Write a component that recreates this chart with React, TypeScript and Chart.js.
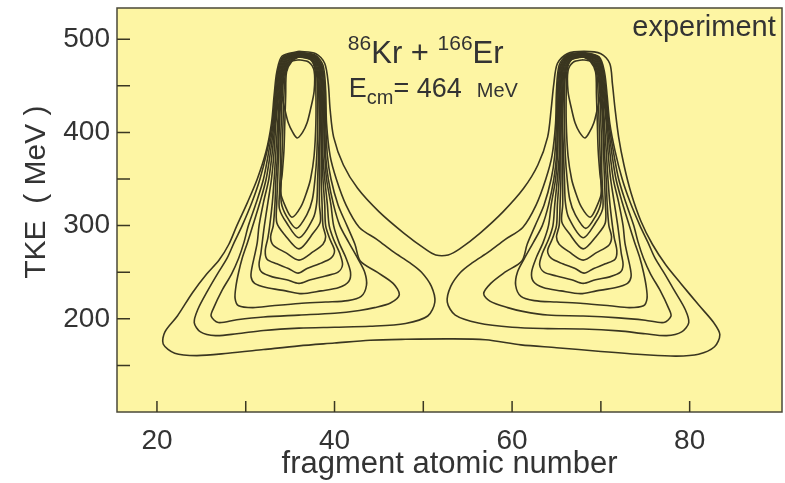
import React, { useEffect, useRef } from 'react';
import { Chart, registerables } from 'chart.js';

Chart.register(...registerables);

// ---- axis ticks ----
const xTickValues = [20, 30, 40, 50, 60, 70, 80];
const xTickLabels = ['20', '', '40', '', '60', '', '80'];
const yTickValues = [150, 200, 250, 300, 350, 400, 450, 500];
const yTickLabels = ['', '200', '', '300', '', '400', '', '500'];

// ---- contour lines: [Z, TKE (MeV)] ----
const contourOuter: [number, number][] = [
  [36.0, 487], [37.9, 484.5], [38.9, 474], [39.3, 452], [39.5, 425], [39.9, 395], [41.0, 365], [42.6, 340], [45.0, 315], [47.8, 292], [50.2, 275], [51.4, 268.5], [52.8, 268.5], [54.1, 275], [56.4, 292], [59.0, 315], [61.3, 340], [62.9, 365], [64.0, 395], [64.4, 425], [64.7, 452], [65.1, 474], [66.2, 484.5], [68.1, 487], [70.0, 484.5], [71.0, 474], [71.3, 452], [71.6, 425], [72.0, 395], [72.6, 365], [73.4, 335], [74.5, 305], [75.8, 280], [77.3, 258], [79.0, 238], [81.0, 215], [82.7, 196], [83.4, 183], [82.8, 170], [81.0, 162], [78.5, 160], [75, 161.5], [70, 165], [65, 169], [61, 172], [57, 177.5], [53, 178.5], [48, 178], [44, 177], [40, 174], [36, 171], [32, 167], [28, 163], [24.5, 160.5], [22, 163], [20.7, 173], [20.9, 186], [22.3, 203], [24.0, 228], [25.6, 248], [27.0, 263], [28.1, 280], [29.0, 300], [30.2, 325], [31.3, 350], [32.3, 380], [32.9, 410], [33.2, 440], [33.5, 465], [34.1, 482], [36.0, 487],
];

const left1: [number, number][] = [
  [36.0, 486], [37.8, 483], [38.7, 472], [39.0, 445], [39.1, 410], [39.5, 375], [40.2, 350], [41.3, 322], [42.8, 298], [44.8, 285], [46.6, 272], [48.5, 260], [49.8, 250], [50.9, 235], [51.3, 218], [50.5, 203], [48.0, 195], [44, 192], [40, 191], [36, 190], [32, 187.5], [29, 184], [26.6, 182], [24.9, 186], [24.2, 196], [24.6, 210], [25.7, 230], [26.8, 248], [27.9, 265], [28.7, 282], [29.6, 300], [30.7, 325], [31.6, 350], [32.4, 380], [33.0, 410], [33.3, 440], [33.6, 465], [34.2, 481], [36.0, 486],
];
const left2: [number, number][] = [
  [36.0, 485.5], [37.7, 482.5], [38.6, 471], [38.9, 445], [39.0, 410], [39.2, 375], [39.6, 350], [40.4, 322], [41.4, 300], [42.3, 280], [42.9, 262], [44.8, 250], [46.6, 238], [47.3, 226], [46.3, 217], [44.5, 212], [42.8, 209], [40, 206], [36, 204], [32, 202], [29, 199], [26.9, 196], [26.1, 203], [26.4, 212], [27.3, 230], [28.4, 248], [29.2, 265], [29.8, 282], [30.3, 300], [31.2, 325], [32.0, 350], [32.6, 380], [33.1, 410], [33.4, 440], [33.7, 465], [34.3, 481], [36.0, 485.5],
];
const left3: [number, number][] = [
  [36.0, 485], [37.7, 482], [38.5, 471], [38.8, 445], [38.9, 410], [39.0, 375], [39.3, 350], [39.9, 322], [40.6, 300], [41.6, 282], [42.6, 265], [43.4, 250], [43.6, 236], [43.0, 224], [41.5, 219.5], [39, 218], [36, 216.5], [33, 214], [30.8, 212], [29.2, 214], [28.8, 222], [28.9, 235], [29.2, 250], [29.6, 265], [30.2, 282], [30.8, 300], [31.6, 325], [32.3, 350], [32.8, 380], [33.2, 410], [33.5, 440], [33.8, 465], [34.4, 480.5], [36.0, 485],
];
const left4: [number, number][] = [
  [36.0, 484.5], [37.6, 481.5], [38.4, 470.5], [38.7, 445], [38.8, 410], [38.9, 375], [39.1, 350], [39.6, 322], [39.9, 300], [40.5, 282], [41.3, 265], [41.8, 250], [41.6, 240], [40.5, 233.5], [38.5, 230], [36.3, 227], [34.5, 230], [32.3, 233.5], [31.0, 238], [30.6, 245], [30.7, 255], [31.0, 268], [31.3, 282], [31.5, 300], [32.0, 325], [32.6, 350], [33.0, 380], [33.3, 410], [33.6, 440], [33.9, 465], [34.5, 480], [36.0, 484.5],
];
const left5: [number, number][] = [
  [36.0, 484], [37.6, 481], [38.3, 470], [38.6, 445], [38.7, 410], [38.7, 375], [38.9, 350], [39.2, 322], [39.4, 300], [39.9, 285], [40.6, 270], [40.9, 258], [40.4, 250], [39.0, 246], [37.3, 242], [36.0, 238], [34.6, 242], [33.0, 245], [31.8, 250], [31.5, 258], [31.7, 270], [31.9, 285], [32.1, 300], [32.5, 325], [32.9, 350], [33.2, 380], [33.4, 410], [33.7, 440], [34.0, 465], [34.6, 479.5], [36.0, 484],
];
const left6: [number, number][] = [
  [36.0, 483.5], [37.5, 480.5], [38.3, 469.5], [38.5, 445], [38.6, 410], [38.6, 375], [38.7, 350], [38.9, 322], [39.0, 300], [39.5, 285], [40.0, 273], [39.6, 265], [38.3, 259], [36.9, 254], [35.9, 249], [34.8, 254], [33.5, 259], [32.4, 264], [32.2, 273], [32.5, 287], [32.7, 300], [33.0, 325], [33.2, 350], [33.4, 380], [33.6, 410], [33.8, 440], [34.1, 465], [34.7, 479], [36.0, 483.5],
];
const left7: [number, number][] = [
  [36.0, 483], [37.5, 480], [38.2, 469], [38.4, 445], [38.5, 410], [38.5, 375], [38.5, 350], [38.6, 322], [38.7, 300], [39.0, 288], [38.7, 280], [37.6, 272], [36.0, 263], [34.5, 271], [33.1, 279], [32.8, 288], [33.1, 300], [33.3, 325], [33.4, 350], [33.6, 380], [33.7, 410], [33.9, 440], [34.2, 465], [34.8, 478.5], [36.0, 483],
];
const left8: [number, number][] = [
  [36.0, 482.5], [37.4, 479.5], [38.1, 468.5], [38.3, 445], [38.4, 410], [38.3, 375], [38.3, 350], [38.3, 322], [38.4, 304], [37.6, 292], [36.0, 275], [34.4, 290], [33.5, 303], [33.5, 325], [33.6, 350], [33.7, 380], [33.8, 410], [34.0, 440], [34.3, 465], [34.9, 478], [36.0, 482.5],
];
const left9: [number, number][] = [
  [36.0, 482], [37.4, 479], [38.0, 468], [38.2, 445], [38.3, 410], [38.2, 375], [38.1, 350], [38.0, 325], [37.6, 308], [36.0, 287], [34.6, 303], [33.8, 318], [33.8, 335], [33.9, 360], [33.9, 385], [34.0, 410], [34.1, 440], [34.4, 465], [35.0, 477.5], [36.0, 482],
];
const left10: [number, number][] = [
  [36.0, 481.5], [37.3, 478.5], [37.9, 467.5], [38.1, 445], [38.1, 410], [38.0, 375], [37.8, 350], [37.5, 328], [36.9, 312], [35.7, 297], [34.6, 310], [34.0, 325], [34.0, 350], [34.1, 380], [34.2, 410], [34.3, 440], [34.5, 465], [35.1, 477], [36.0, 481.5],
];
const left11: [number, number][] = [
  [36.0, 481], [37.3, 478], [37.8, 467], [37.9, 445], [37.9, 410], [37.7, 375], [37.3, 350], [36.9, 337], [36.2, 320], [35.2, 309], [34.4, 322], [33.9, 337], [34.1, 355], [34.3, 380], [34.4, 410], [34.5, 440], [34.6, 465], [35.2, 476.5], [36.0, 481],
];
const left12: [number, number][] = [
  [36.0, 478], [37.1, 475.5], [37.7, 466], [37.7, 444], [37.3, 425], [36.9, 410], [36.4, 400], [35.8, 394], [35.3, 400], [34.8, 410], [34.4, 425], [34.0, 444], [34.0, 466], [34.9, 475.5], [36.0, 478],
];

const right1: [number, number][] = [
  [68.0, 486], [66.2, 483], [65.3, 472], [65.0, 445], [64.9, 410], [64.5, 375], [63.8, 350], [62.7, 322], [61.2, 298], [59.2, 285], [57.4, 272], [55.5, 260], [54.2, 250], [53.1, 235], [52.7, 218], [53.6, 204], [56.2, 195.5], [60, 191], [64, 189.5], [68, 189], [72, 187], [75, 184], [77.4, 182], [79.1, 186], [79.9, 196], [79.5, 210], [78.3, 230], [77.2, 248], [76.1, 265], [75.3, 282], [74.4, 300], [73.3, 325], [72.4, 350], [71.6, 380], [71.0, 410], [70.7, 440], [70.4, 465], [69.8, 481], [68.0, 486],
];
const right2: [number, number][] = [
  [68.0, 485.5], [66.3, 482.5], [65.4, 471], [65.1, 445], [65.0, 410], [64.8, 375], [64.4, 350], [63.6, 322], [62.6, 300], [61.7, 280], [61.1, 262], [59.2, 250], [57.6, 238], [56.8, 227], [57.5, 219], [59.5, 212], [61.2, 208], [64, 204], [68, 203], [72, 201], [75, 198.5], [77.1, 196], [77.9, 203], [77.6, 212], [76.7, 230], [75.6, 248], [74.8, 265], [74.2, 282], [73.7, 300], [72.8, 325], [72.0, 350], [71.4, 380], [70.9, 410], [70.6, 440], [70.3, 465], [69.7, 481], [68.0, 485.5],
];
const right3: [number, number][] = [
  [68.0, 485], [66.3, 482], [65.5, 471], [65.2, 445], [65.1, 410], [65.0, 375], [64.7, 350], [64.1, 322], [63.4, 300], [62.4, 282], [61.4, 265], [60.6, 250], [60.4, 236], [61.0, 224], [62.5, 219.5], [65, 218], [68, 216.5], [71, 214], [73.2, 212], [74.8, 214], [75.2, 222], [75.1, 235], [74.8, 250], [74.4, 265], [73.8, 282], [73.2, 300], [72.4, 325], [71.7, 350], [71.2, 380], [70.8, 410], [70.5, 440], [70.2, 465], [69.6, 480.5], [68.0, 485],
];
const right4: [number, number][] = [
  [68.0, 484.5], [66.4, 481.5], [65.6, 470.5], [65.3, 445], [65.2, 410], [65.1, 375], [64.9, 350], [64.4, 322], [64.1, 300], [63.5, 282], [62.7, 265], [62.2, 250], [62.4, 240], [63.5, 233.5], [65.5, 230], [67.7, 227], [69.5, 230], [71.7, 233.5], [73.0, 238], [73.4, 245], [73.3, 255], [73.0, 268], [72.7, 282], [72.5, 300], [72.0, 325], [71.4, 350], [71.0, 380], [70.7, 410], [70.4, 440], [70.1, 465], [69.5, 480], [68.0, 484.5],
];
const right5: [number, number][] = [
  [68.0, 484], [66.4, 481], [65.7, 470], [65.4, 445], [65.3, 410], [65.3, 375], [65.1, 350], [64.8, 322], [64.6, 300], [64.1, 285], [63.4, 270], [63.1, 258], [63.6, 250], [65.0, 246], [66.7, 242], [68.0, 238], [69.4, 242], [71.0, 245], [72.2, 250], [72.5, 258], [72.3, 270], [72.1, 285], [71.9, 300], [71.5, 325], [71.1, 350], [70.8, 380], [70.6, 410], [70.3, 440], [70.0, 465], [69.4, 479.5], [68.0, 484],
];
const right6: [number, number][] = [
  [68.0, 483.5], [66.5, 480.5], [65.7, 469.5], [65.5, 445], [65.4, 410], [65.4, 375], [65.3, 350], [65.1, 322], [65.0, 300], [64.5, 285], [64.0, 273], [64.4, 265], [65.7, 259], [67.1, 254], [68.1, 249], [69.2, 254], [70.5, 259], [71.6, 264], [71.8, 273], [71.5, 287], [71.3, 300], [71.0, 325], [70.8, 350], [70.6, 380], [70.4, 410], [70.2, 440], [69.9, 465], [69.3, 479], [68.0, 483.5],
];
const right7: [number, number][] = [
  [68.0, 483], [66.5, 480], [65.8, 469], [65.6, 445], [65.5, 410], [65.5, 375], [65.5, 350], [65.4, 322], [65.3, 300], [65.0, 288], [65.3, 280], [66.4, 272], [68.0, 263], [69.5, 271], [70.9, 279], [71.2, 288], [70.9, 300], [70.7, 325], [70.6, 350], [70.4, 380], [70.3, 410], [70.1, 440], [69.8, 465], [69.2, 478.5], [68.0, 483],
];
const right8: [number, number][] = [
  [68.0, 482.5], [66.6, 479.5], [65.9, 468.5], [65.7, 445], [65.6, 410], [65.7, 375], [65.7, 350], [65.7, 322], [65.6, 304], [66.4, 292], [68.0, 275], [69.6, 290], [70.5, 303], [70.5, 325], [70.4, 350], [70.3, 380], [70.2, 410], [70.0, 440], [69.7, 465], [69.1, 478], [68.0, 482.5],
];
const right9: [number, number][] = [
  [68.0, 482], [66.6, 479], [66.0, 468], [65.8, 445], [65.7, 410], [65.8, 375], [65.9, 350], [66.0, 325], [66.4, 308], [68.0, 287], [69.4, 303], [70.2, 318], [70.2, 335], [70.1, 360], [70.1, 385], [70.0, 410], [69.9, 440], [69.6, 465], [69.0, 477.5], [68.0, 482],
];
const right10: [number, number][] = [
  [68.0, 481.5], [66.7, 478.5], [66.1, 467.5], [65.9, 445], [65.9, 410], [66.0, 375], [66.2, 350], [66.5, 328], [67.1, 312], [68.3, 297], [69.4, 310], [70.0, 325], [70.0, 350], [69.9, 380], [69.8, 410], [69.7, 440], [69.5, 465], [68.9, 477], [68.0, 481.5],
];
const right11: [number, number][] = [
  [68.0, 481], [66.7, 478], [66.2, 467], [66.1, 445], [66.1, 410], [66.3, 375], [66.7, 350], [67.1, 337], [67.8, 320], [68.8, 309], [69.6, 322], [70.1, 337], [69.9, 355], [69.7, 380], [69.6, 410], [69.5, 440], [69.4, 465], [68.8, 476.5], [68.0, 481],
];
const right12: [number, number][] = [
  [68.0, 478], [66.9, 475.5], [66.3, 466], [66.3, 444], [66.7, 425], [67.1, 410], [67.6, 400], [68.2, 394], [68.7, 400], [69.2, 410], [69.6, 425], [70.0, 444], [70.0, 466], [69.1, 475.5], [68.0, 478],
];

const contours = [
  contourOuter,
  left1, left2, left3, left4, left5, left6, left7, left8, left9, left10, left11, left12,
  right1, right2, right3, right4, right5, right6, right7, right8, right9, right10, right11, right12,
];

const FONT = '"Liberation Sans", Arial, Helvetica, sans-serif';
const TEXT = '#333333';
const LINE = '#3a3620';
const BG = '#fdf5a3';

type Run = { t: string; size: number; dy: number };

function drawRuns(ctx: CanvasRenderingContext2D, x: number, y: number, runs: Run[]) {
  let cx = x;
  for (const r of runs) {
    ctx.font = `${r.size}px ${FONT}`;
    ctx.fillText(r.t, cx, y + r.dy);
    cx += ctx.measureText(r.t).width;
  }
}

const decorPlugin = {
  id: 'decor',
  beforeDraw(chart: any) {
    const { ctx, chartArea: a } = chart;
    ctx.save();
    ctx.fillStyle = BG;
    ctx.fillRect(a.left, a.top, a.right - a.left, a.bottom - a.top);
    ctx.restore();
  },
  afterDraw(chart: any) {
    const { ctx, chartArea: a, scales } = chart;
    const xs = scales.x;
    const ys = scales.y;
    ctx.save();
    // frame
    ctx.strokeStyle = '#4a4838';
    ctx.lineWidth = 1.5;
    ctx.strokeRect(a.left, a.top, a.right - a.left, a.bottom - a.top);
    // inward ticks
    ctx.strokeStyle = '#3a3722';
    ctx.lineWidth = 1.5;
    ctx.beginPath();
    for (const v of xTickValues) {
      const px = xs.getPixelForValue(v);
      ctx.moveTo(px, a.bottom);
      ctx.lineTo(px, a.bottom - 11);
    }
    for (const v of yTickValues) {
      const py = ys.getPixelForValue(v);
      ctx.moveTo(a.left, py);
      ctx.lineTo(a.left + 13, py);
    }
    ctx.stroke();

    // y axis title
    ctx.fillStyle = TEXT;
    ctx.font = `30px ${FONT}`;
    ctx.textAlign = 'center';
    ctx.textBaseline = 'middle';
    ctx.translate(37, ys.getPixelForValue(336));
    ctx.rotate(-Math.PI / 2);
    ctx.fillText('TKE  ( MeV )', 0, 0);
    ctx.restore();

    // annotations
    ctx.save();
    ctx.fillStyle = TEXT;
    ctx.textAlign = 'left';
    ctx.textBaseline = 'alphabetic';
    drawRuns(ctx, xs.getPixelForValue(41.5), ys.getPixelForValue(475), [
      { t: '86', size: 21, dy: -13 },
      { t: 'Kr + ', size: 31, dy: 0 },
      { t: '166', size: 21, dy: -13 },
      { t: 'Er', size: 31, dy: 0 },
    ]);
    drawRuns(ctx, xs.getPixelForValue(41.6), ys.getPixelForValue(438), [
      { t: 'E', size: 27, dy: 0 },
      { t: 'cm', size: 20, dy: 7 },
      { t: '= 464  ', size: 27, dy: 0 },
      { t: 'MeV', size: 20, dy: 0 },
    ]);
    ctx.font = `29px ${FONT}`;
    ctx.textAlign = 'right';
    ctx.fillText('experiment', xs.getPixelForValue(89.7), ys.getPixelForValue(503.5));
    ctx.restore();
  },
};

export default function App() {
  const ref = useRef<HTMLCanvasElement>(null);
  useEffect(() => {
    const canvas = ref.current;
    if (!canvas) return;
    const chart = new Chart(canvas, {
      type: 'scatter',
      data: {
        datasets: contours.map((c) => ({
          data: c.map(([x, y]) => ({ x, y })),
          showLine: true,
          borderColor: LINE,
          borderWidth: 1.6,
          pointRadius: 0,
          pointHoverRadius: 0,
          tension: 0.3,
          fill: false,
        })),
      },
      options: {
        animation: false,
        responsive: false,
        devicePixelRatio: 1,
        events: [],
        layout: { padding: { left: 0, top: 8, right: 3, bottom: 0 } },
        plugins: { legend: { display: false }, tooltip: { enabled: false } },
        scales: {
          x: {
            type: 'linear',
            min: 15.5,
            max: 90.4,
            grid: { display: false, drawTicks: false },
            border: { display: false },
            afterBuildTicks: (s: any) => {
              s.ticks = xTickValues.map((v) => ({ value: v }));
            },
            afterFit: (s: any) => {
              s.height = 71;
              s.paddingLeft = 0;
              s.paddingRight = 0;
            },
            ticks: {
              autoSkip: false,
              maxRotation: 0,
              padding: 12,
              color: TEXT,
              font: { family: FONT, size: 28 },
              callback: (v: any) => {
                const i = xTickValues.indexOf(Number(v));
                return i >= 0 ? xTickLabels[i] : '';
              },
            },
            title: {
              display: true,
              text: 'fragment atomic number',
              color: TEXT,
              font: { family: FONT, size: 31 },
              padding: { top: 0, bottom: 0 },
            },
          },
          y: {
            type: 'linear',
            min: 100,
            max: 533.5,
            grid: { display: false, drawTicks: false },
            border: { display: false },
            afterBuildTicks: (s: any) => {
              s.ticks = yTickValues.map((v) => ({ value: v }));
            },
            afterFit: (s: any) => {
              s.width = 117;
              s.paddingTop = 0;
              s.paddingBottom = 0;
            },
            ticks: {
              autoSkip: false,
              padding: 7,
              color: TEXT,
              font: { family: FONT, size: 28 },
              callback: (v: any) => {
                const i = yTickValues.indexOf(Number(v));
                return i >= 0 ? yTickLabels[i] : '';
              },
            },
          },
        },
      },
      plugins: [decorPlugin],
    });
    return () => chart.destroy();
  }, []);

  return (
    <div style={{ position: 'absolute', left: 0, top: 0, width: 785, height: 483, background: '#ffffff' }}>
      <canvas ref={ref} width={785} height={483} style={{ display: 'block' }} />
    </div>
  );
}
